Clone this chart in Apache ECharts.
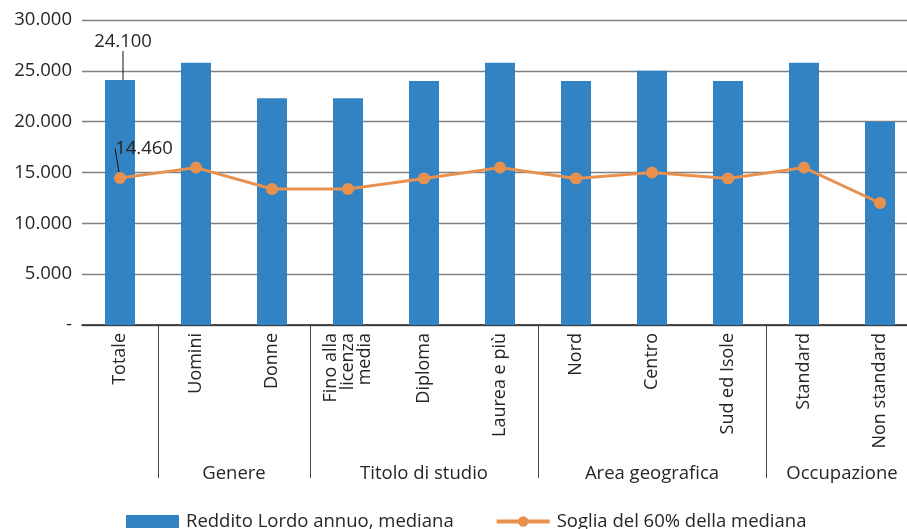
<!DOCTYPE html>
<html>
<head>
<meta charset="utf-8">
<script src="https://cdn.jsdelivr.net/npm/echarts@6/dist/echarts.min.js"></script>
<style>
  html, body { margin: 0; padding: 0; background: #fff; }
  #chart { width: 907px; height: 529px; }
</style>
</head>
<body>
<div id="chart"></div>
<script>
// Categorie sull'asse X
const categories = ['Totale', 'Uomini', 'Donne', 'Fino alla\nlicenza\nmedia', 'Diploma', 'Laurea e più',
  'Nord', 'Centro', 'Sud ed Isole', 'Standard', 'Non standard'];
// Gruppi di categorie: nome, posizione centrale, confine iniziale
const groupNames = ['Genere', 'Titolo di studio', 'Area geografica', 'Occupazione'];
const groupCenters = [2, 4.5, 7.5, 10];
const groupBounds = [1, 3, 6, 9];
// Reddito lordo annuo mediano (euro)
const reddito = [24100, 25800, 22300, 22300, 24000, 25800, 24000, 25000, 24000, 25800, 20000];
// Soglia del 60% della mediana (euro)
const soglia = [14460, 15480, 13380, 13380, 14400, 15480, 14400, 15000, 14400, 15480, 12000];
// Tacche dell'asse Y
const yTicks = [0, 5000, 10000, 15000, 20000, 25000, 30000];

const FONT = 'Open Sans';
const TEXT = '#262626';
const FS = 18.5;

function fmt(v) {
  if (v === 0) return '-';
  return String(v).replace(/\B(?=(\d{3})+(?!\d))/g, '.');
}

const chart = echarts.init(document.getElementById('chart'), null, { renderer: 'canvas' });

chart.setOption({
  animation: false,
  textStyle: { fontFamily: FONT },
  grid: {
    left: 82, width: 836, top: 20, height: 305,
    containLabel: false, outerBoundsMode: 'none'
  },
  xAxis: [
    {
      type: 'category',
      data: categories,
      boundaryGap: true,
      axisLine: { show: true, lineStyle: { color: '#222', width: 1.5 } },
      axisTick: { show: false },
      axisLabel: {
        interval: 0, rotate: 90, margin: 8,
        fontFamily: FONT, fontSize: 18, color: TEXT, lineHeight: 17
      }
    },
    {
      type: 'value',
      position: 'bottom',
      min: 0, max: 11,
      axisLine: { show: false },
      splitLine: { show: false },
      axisTick: {
        show: true, inside: false, length: 153,
        customValues: groupBounds,
        lineStyle: { color: '#444', width: 1 }
      },
      axisLabel: {
        show: true, margin: 139,
        customValues: groupCenters,
        formatter: function (v) { return groupNames[groupCenters.indexOf(v)] || ''; },
        fontFamily: FONT, fontSize: FS, color: TEXT
      }
    }
  ],
  yAxis: {
    type: 'value',
    min: yTicks[0], max: yTicks[yTicks.length - 1], interval: 5000,
    axisLine: { show: false },
    axisTick: { show: false },
    splitLine: { show: true, lineStyle: { color: '#808080', width: 1.3 } },
    axisLabel: {
      margin: 10, formatter: fmt,
      fontFamily: FONT, fontSize: FS, color: TEXT
    }
  },
  legend: {
    top: 507,
    left: 121,
    itemWidth: 53, itemHeight: 13, itemGap: 41,
    textStyle: { fontFamily: FONT, fontSize: FS, color: TEXT, padding: [0, 0, 0, 2] },
    data: [
      { name: 'Reddito Lordo annuo, mediana', icon: 'rect' },
      { name: 'Soglia del 60% della mediana', lineStyle: { width: 4 } }
    ]
  },
  series: [
    {
      name: 'Reddito Lordo annuo, mediana',
      type: 'bar',
      barWidth: 30,
      itemStyle: { color: '#3283c4' },
      data: reddito.map(function (v, i) {
        return i === 0 ? { value: v, label: { show: true } } : v;
      }),
      label: {
        show: false, position: 'top', distance: 5,
        formatter: function (p) { return fmt(p.value); },
        fontFamily: FONT, fontSize: FS, color: TEXT
      },
      labelLayout: { dx: 3, dy: -24 },
      labelLine: { show: true, lineStyle: { color: '#111', width: 1 } }
    },
    {
      name: 'Soglia del 60% della mediana',
      type: 'line',
      symbol: 'circle',
      symbolSize: 12,
      lineStyle: { color: '#e8914f', width: 3 },
      itemStyle: { color: '#e8914f' },
      data: soglia.map(function (v, i) {
        return i === 0 ? { value: v, label: { show: true } } : v;
      }),
      label: {
        show: false, position: 'top', distance: 5,
        formatter: function (p) { return fmt(p.value); },
        fontFamily: FONT, fontSize: FS, color: TEXT
      },
      labelLayout: { dx: 24, dy: -9 },
      labelLine: { show: true, lineStyle: { color: '#111', width: 1 } },
      z: 3
    }
  ]
});
</script>
</body>
</html>
